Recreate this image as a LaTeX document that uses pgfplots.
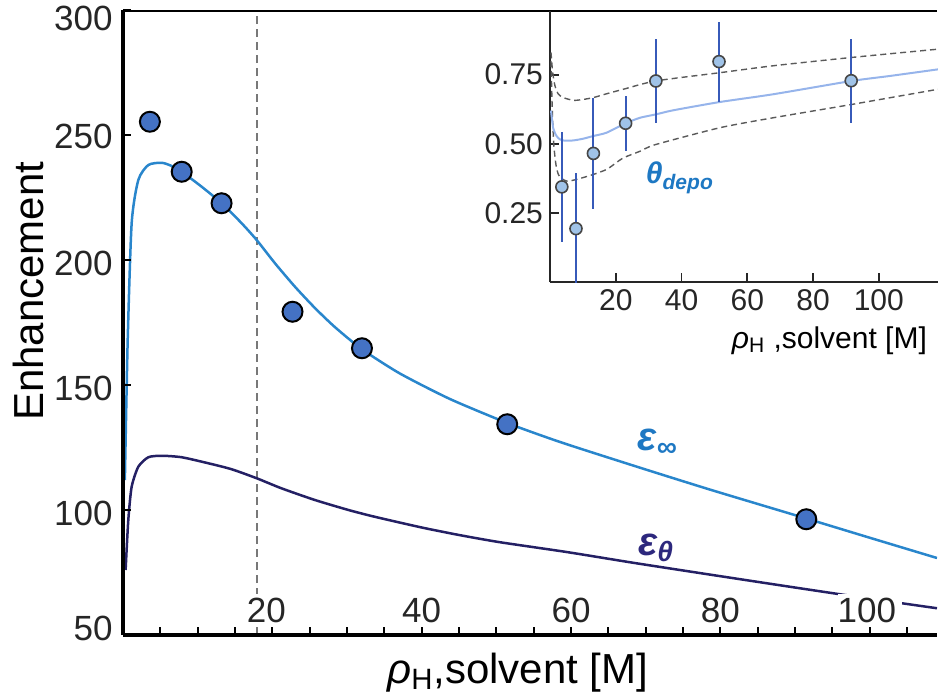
\documentclass[border=0pt]{standalone}
\usepackage{fontspec}
\setmainfont{Liberation Sans}
\usepackage{pgfplots}
\pgfplotsset{compat=1.18}
\definecolor{einf}{RGB}{41,134,204}
\definecolor{etheta}{RGB}{36,32,100}
\definecolor{ptfill}{RGB}{68,114,196}
\definecolor{einflab}{RGB}{30,120,195}
\definecolor{ethlab}{RGB}{45,40,125}
\definecolor{dashcol}{RGB}{120,120,120}
\definecolor{errcol}{RGB}{55,90,185}
\definecolor{ptlight}{RGB}{160,195,232}
\definecolor{ptedge}{RGB}{70,70,70}
\definecolor{fitcol}{RGB}{150,180,235}
\definecolor{idash}{RGB}{90,90,90}
\begin{document}
\begin{tikzpicture}
\begin{axis}[
  at={(0pt,0pt)}, anchor=south west,
  scale only axis, width=407pt, height=312.5pt,
  xmin=0, xmax=109, ymin=50, ymax=300,
  axis x line*=bottom, axis y line*=left,
  axis on top,
  axis line style={line width=1.75pt, black},
  tick align=inside,
  major tick length=4pt, minor tick length=4pt,
  every tick/.style={black, line width=1pt},
  xtick={20,40,60,80,100},
  xticklabels={\hspace{-6pt}20,40,60,80,\hspace{-3pt}100},
  minor xtick={5,10,15,25,30,35,45,50,55,65,70,75,85,90,95,105},
  ytick={50,100,150,200,250,300},
  yticklabels={\raisebox{-2.8pt}[0pt][0pt]{50},\raisebox{-7.5pt}[0pt][0pt]{100},\raisebox{-7.5pt}[0pt][0pt]{150},\raisebox{-7.5pt}[0pt][0pt]{200},\raisebox{-6.5pt}[0pt][0pt]{250},\raisebox{-10.3pt}[0pt][0pt]{300}},
  /pgf/number format/assume math mode=true,
  xticklabel style={font=\fontsize{17.5}{18}\selectfont, text=black!85, anchor=base, yshift=6.5pt, fill=white, inner xsep=3pt, inner ysep=2pt},
  yticklabel style={font=\fontsize{17.5}{18}\selectfont, text=black!85, inner xsep=5pt},
  xlabel={\textit{ρ}\textsubscript{H},solvent [M]},
  xlabel style={at={(axis description cs:0.485,0)}, anchor=base, yshift=-24pt, font=\fontsize{21}{21}\selectfont},
  ylabel={Enhancement},
  ylabel style={at={(axis description cs:-0.1167,0.55)}, anchor=center, font=\fontsize{21}{21}\selectfont},
]
\addplot[dashcol, line width=1pt, dash pattern=on 4pt off 2.5pt] coordinates {(17.9,50) (17.9,300)};
\addplot[einf, line width=1.25pt, smooth, tension=0.4] coordinates {
(0.25,112) (0.63,168) (1.16,214.7) (2.05,232) (3.39,238) (5.18,238.9) (6.52,237.6) (7.86,235.3) (10.54,229.3) (13.21,222.7) (15.89,214.7) (17.9,208) (20.35,198.7) (23.03,189.3) (25.7,180.8) (28.4,173.1) (32,164.3) (37.08,154.6) (43.78,144.4) (51.45,134.8) (57.16,128.6) (61.18,124.6) (70.1,116.1) (79,107.8) (91.5,96.6) (100,88.9) (109,80.8)};
\addplot[etheta, line width=1.25pt, smooth, tension=0.4] coordinates {
(0.35,76) (0.71,96) (1.16,109.3) (2.05,117.3) (3.39,121.1) (5.18,121.7) (7.86,121.1) (11.42,118.7) (14.55,116.3) (17.9,112.7) (21.2,108.7) (25.7,104) (30.2,100) (33.7,97.3) (40,93) (45,90) (50.5,87.1) (59.4,83.2) (68.3,78.9) (77.2,74.8) (86.2,70.7) (95.1,66.7) (103.6,63) (109,60.7)};
\addplot[only marks, mark=*, mark size=5pt, mark options={fill=ptfill, draw=black, line width=1pt}] coordinates {
(3.6,255.3) (7.86,235.3) (13.2,222.7) (22.7,179.3) (32,164.7) (51.45,134.3) (91.5,96.3)};
\node[text=einflab, font=\fontsize{20}{20}\selectfont] at (axis cs:71.6,126.8) {\bfseries\itshape ε\textsubscript{∞}};
\node[text=ethlab, font=\fontsize{20}{20}\selectfont] at (axis cs:71.4,84.8) {\bfseries\itshape ε\textsubscript{θ}};
\draw[line width=1.5pt, black] (rel axis cs:0,1) -- (rel axis cs:1,1);
\end{axis}
\begin{axis}[
  at={(213.5pt,176.5pt)}, anchor=south west,
  scale only axis, width=194pt, height=135.5pt,
  xmin=0, xmax=118, ymin=0, ymax=0.98,
  axis x line*=bottom, axis y line*=left,
  axis line style={line width=1.1pt, black!85},
  tick align=inside, major tick length=4.5pt,
  every tick/.style={black!85, line width=0.9pt},
  xtick={20,40,60,80,100}, ytick={0.25,0.5,0.75}, yticklabels={0.25,0.50,0.75},
  /pgf/number format/assume math mode=true,
  ticklabel style={font=\fontsize{15}{15}\selectfont, text=black!85},
  xlabel={\textit{ρ}\textsubscript{H} ,solvent [M]},
  xlabel style={at={(axis description cs:0.72,0)}, anchor=base, yshift=-33pt, font=\fontsize{15}{15}\selectfont},
]
\addplot[idash, line width=0.7pt, dash pattern=on 3pt off 2pt, smooth, tension=0.4] coordinates {
(0.3,0.83) (0.8,0.76) (1.5,0.71) (2.5,0.68) (4,0.667) (7.1,0.657) (10,0.66) (13.2,0.667) (17,0.68) (22.3,0.697) (32.1,0.727) (51.7,0.757) (67.9,0.782) (91.7,0.812) (118,0.842)};
\addplot[idash, line width=0.7pt, dash pattern=on 3pt off 2pt, smooth, tension=0.4] coordinates {
(0.3,0.80) (0.7,0.62) (1.2,0.49) (2,0.41) (3,0.38) (5.1,0.365) (8.1,0.371) (13.2,0.389) (17.2,0.407) (20,0.43) (22.3,0.449) (27.4,0.473) (32.1,0.497) (51.7,0.558) (67.9,0.594) (91.7,0.642) (118,0.697)};
\addplot[fitcol, line width=1pt, smooth, tension=0.4] coordinates {
(0.3,0.62) (1,0.555) (2,0.528) (3,0.516) (4.5,0.511) (7.1,0.512) (10,0.518) (13.2,0.528) (17.2,0.54) (23,0.574) (27.4,0.594) (32.1,0.606) (37.5,0.621) (51.7,0.651) (67.9,0.679) (91.7,0.727) (103.3,0.745) (118,0.769)};
\addplot[only marks, mark=*, mark size=3pt, mark options={fill=ptlight, draw=ptedge, line width=0.8pt},
  error bars/.cd, y dir=both, y explicit, error mark=none, error bar style={errcol, line width=1pt}] coordinates {
(3.6,0.344) +- (0,0.2)
(7.9,0.193) +- (0,0.2)
(13.2,0.465) +- (0,0.2)
(23,0.574) +- (0,0.1)
(32.2,0.727) +- (0,0.151)
(51.4,0.797) +- (0,0.145)
(91.6,0.728) +- (0,0.152)};
\node[text=einflab, font=\fontsize{15}{15}\selectfont] at (axis cs:39.5,0.377) {\bfseries\itshape θ\textsubscript{depo}};
\end{axis}
\pgfresetboundingbox
\path[use as bounding box] (-61.5pt,-31.5pt) rectangle (407.5pt,317.5pt);
\end{tikzpicture}
\end{document}
